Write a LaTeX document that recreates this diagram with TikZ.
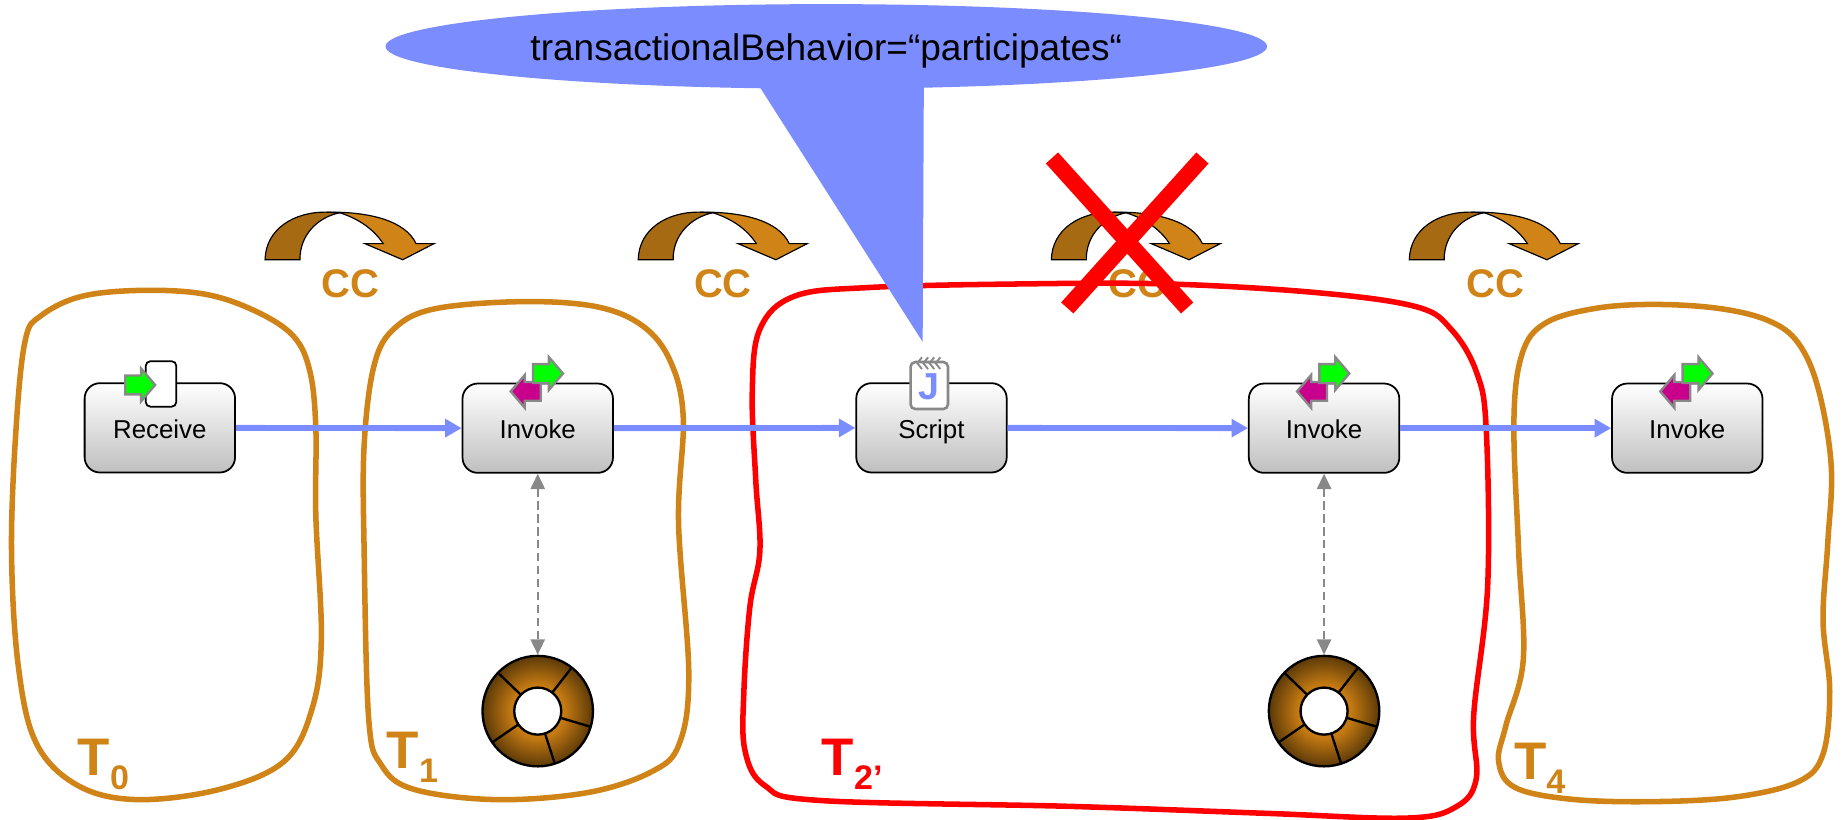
\documentclass[tikz,border=0pt]{standalone}
\usepackage{fontspec}
\setmainfont{Liberation Sans}
\usetikzlibrary{arrows.meta}
\usetikzlibrary{shapes.geometric}
\definecolor{flowblue}{HTML}{7B8CFF}
\definecolor{txorange}{HTML}{D08316}
\definecolor{txbrown}{HTML}{A66A12}
\definecolor{wheelin}{HTML}{C57A12}
\definecolor{wheelout}{HTML}{5C3A08}
\definecolor{msgmagenta}{HTML}{C8008C}
\definecolor{icongray}{HTML}{888888}
\pgfdeclareradialshading{wheelshade}{\pgfpoint{0bp}{0bp}}{color(0bp)=(wheelin); color(12bp)=(wheelin); color(25bp)=(wheelout); color(50bp)=(wheelout)}
\newcommand{\msgarrow}[4]{
	\begin{scope}[shift={(#1,#2)},xscale=#4]
		\draw[draw=icongray,line width=2pt,fill=#3] (-12.5,-8) -- (1,-8) -- (1,-14) -- (13,0) -- (1,14) -- (1,8) -- (-12.5,8) -- cycle;
	\end{scope}
}
\newcommand{\tsub}[1]{\raisebox{-12pt}{\fontsize{29}{33}\selectfont #1}}
\begin{document}
\begin{tikzpicture}[x=1pt,y=-1pt,
		activity/.style={draw=black,line width=1.5pt,rounded corners=13pt,minimum width=128pt,minimum height=76pt,top color=white,bottom color=black!25,inner sep=0pt,text=black,text height=18pt,text depth=0pt,font=\fontsize{22}{26}\selectfont},
		flow/.style={draw=flowblue,line width=5pt,-{Triangle[length=14pt,width=15pt]}},
		link/.style={draw=icongray,line width=1.8pt,dash pattern=on 7pt off 4pt,{Triangle[length=13pt,width=12pt]}-{Triangle[length=13pt,width=12pt]}},
		blob/.style={line width=4.7pt,smooth cycle,tension=0.6},
		cclab/.style={text=txorange,font=\bfseries\fontsize{34}{38}\selectfont},
		tlab/.style={anchor=base west,inner sep=0pt,font=\bfseries\fontsize{45}{50}\selectfont},
		wheel/.style={circle,draw=black,line width=2pt,minimum size=94pt,inner sep=0pt,shading=wheelshade},
		hub/.style={circle,draw=black,line width=2pt,fill=white,minimum size=40pt,inner sep=0pt}]
	\useasboundingbox (0,0) rectangle (1568,697.6);

	% transactions

	\draw[txorange,blob] plot coordinates {(123,247) (176,250.6) (219,265.5) (250,286.4) (263.7,316.2) (268.7,364) (268.7,438.6) (273.4,543) (265.6,602.7) (242,647.5) (187.5,671.4) (117,680.3) (66.4,668.4) (31,632.6) (15.6,566.9) (9.8,468.4) (13.7,364) (21.5,289.4) (35,268.5) (70,252)};
	\draw[txorange,blob] plot coordinates {(445.3,256.6) (507.8,261) (546.9,277.4) (570.3,307.3) (581.3,355) (577.3,444.6) (586,572.9) (578,632.6) (554.7,656.4) (500,674.3) (421.9,680.3) (351.6,671.4) (324.2,650.5) (313.7,611.7) (309.8,468.4) (309.8,378.9) (318.4,310.3) (336,279) (371,262.5)};
	\draw[txorange,blob] plot coordinates {(1407,259) (1463,262.5) (1505,273) (1530,292) (1547,331) (1558,396.8) (1555,462.5) (1551,528) (1556.7,587.8) (1551,641.5) (1530,665) (1477,678) (1407,682) (1337,680) (1289,670) (1275,648) (1281,618) (1296,561) (1292,468) (1288,358) (1295,301) (1314.6,275) (1356.5,262.5)};

	% compensation

	\foreach \dx/\lx in {0/298,317.5/615,669/968,973.5/1272} {
		\begin{scope}[shift={(\dx,0)}]
			\filldraw[draw=black,line width=1pt,fill=txbrown] (225.5,221) .. controls (226,195) and (250,180) .. (278,180.5) -- (289,181) .. controls (270,185) and (255,200) .. (255.2,221) -- cycle;
			\filldraw[draw=black,line width=1pt,fill=txorange] (278,180.5) .. controls (315,180) and (345,188) .. (354,207.3) -- (369.2,207.3) -- (342.6,221) -- (310.5,207.3) -- (326,207.3) .. controls (318,195) and (305,186) .. (289,181) -- cycle;
		\end{scope}
		\node[cclab] (C\lx) at (\lx,241) {CC};
	}

	\draw[red,blob] plot coordinates {(866.5,241.6) (993.5,241.6) (1120.5,249) (1205,261) (1234.8,280.4) (1256,316.2) (1264.4,364) (1265.7,498) (1253.8,608.7) (1256,662.4) (1239,686.3) (1196.7,696) (1078,692) (908.9,686) (697.2,681) (650.7,668.4) (633.8,638.5) (632.9,587.8) (638,516) (646.5,468.4) (643,408.8) (640,334) (646.5,280) (676,252) (739.6,244.6)};

	\node[tlab,text=txorange] (T0) at (66,660) {T\tsub{0}};
	\node[tlab,text=txorange] (T1) at (329,654) {T\tsub{1}};
	\node[tlab,text=red] (T2) at (699,660) {T\tsub{2’}};
	\node[tlab,text=txorange] (T4) at (1288,663) {T\tsub{4}};

	% callout

	\fill[flowblue] (643.8,70) -- (786,70) -- (785,290.9) -- cycle;
	\node[ellipse,fill=flowblue,minimum width=750pt,minimum height=72pt,inner sep=0pt,text height=24pt,text depth=0pt,font=\fontsize{31.5}{36}\selectfont] (B1) at (703,39.5) {transactionalBehavior=“participates“};

	% activities

	\node[activity] (R1) at (136,364) {Receive};
	\node[activity] (I1) at (457.5,364.3) {Invoke};
	\node[activity] (S1) at (792.5,364) {Script};
	\node[activity] (I2) at (1126.5,364.3) {Invoke};
	\node[activity] (I3) at (1435.5,364.3) {Invoke};

	\draw[flow] (R1) -- (I1);
	\draw[flow] (I1) -- (S1);
	\draw[flow] (S1) -- (I2);
	\draw[flow] (I2) -- (I3);

	% icons

	\filldraw[draw=black,line width=1.5pt,fill=white,rounded corners=4pt] (124,307.3) rectangle (150,346);
	\msgarrow{119}{327.5}{green}{1}
	\foreach \ix in {457.5,1126.5,1435.5} {
		\msgarrow{\ix-10}{333}{msgmagenta}{-1}
		\msgarrow{\ix+8.5}{317.8}{green}{1}
	}

	\filldraw[draw=icongray,line width=2.2pt,fill=white,rounded corners=4pt] (774.7,308) rectangle (806.5,348);
	\foreach \jx in {780.4,785.6,790.8,796} {
		\draw[icongray,line width=1.6pt] (\jx+4,304) -- (\jx,309) -- (\jx+4,314);
	}
	\node[text=flowblue,inner sep=0pt,font=\bfseries\fontsize{32}{36}\selectfont] (J1) at (790,329) {J};

	% databases

	\foreach \n/\wx in {1/457.5,2/1126.5} {
		\node[wheel] (W\n) at (\wx,605) {};
		\foreach \a in {-52,16.5,72,145.5,-136} {
			\draw[black,line width=2pt] ([shift={(\a:20)}]W\n.center) -- ([shift={(\a:47)}]W\n.center);
		}
		\node[hub] (H\n) at (W\n.center) {};
	}
	\draw[link] (I1) -- (W1);
	\draw[link] (I2) -- (W2);

	% cross

	\draw[red,line width=14pt] (895,134.4) -- (1010,262);
	\draw[red,line width=14pt] (1023,134.4) -- (908,262);
\end{tikzpicture}
\end{document}
